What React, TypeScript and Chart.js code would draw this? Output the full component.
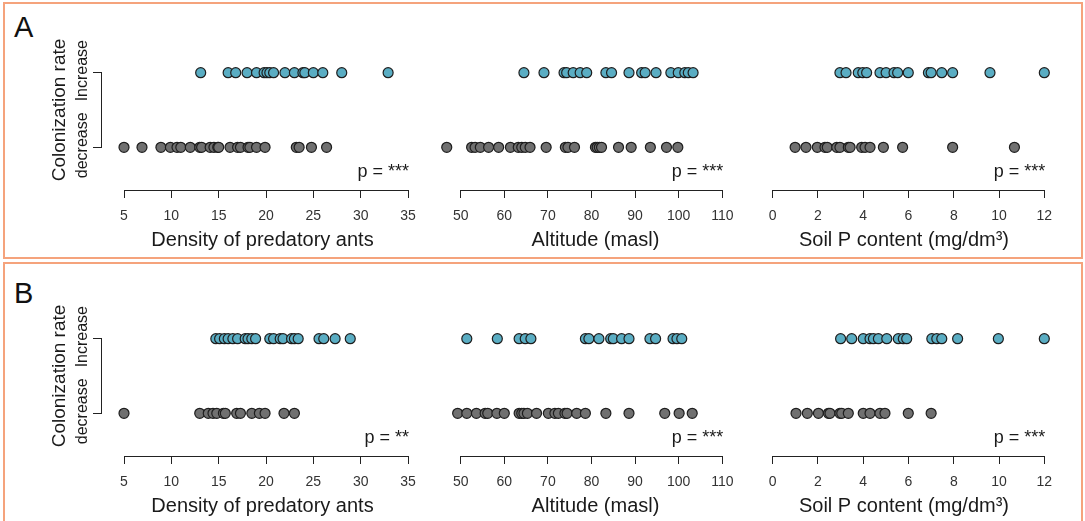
import React, { useEffect, useRef } from 'react';
import { Chart, registerables } from 'chart.js';

Chart.register(...registerables);

// ---------- data ----------
const antsTicks = [5, 10, 15, 20, 25, 30, 35];
const altTicks = [50, 60, 70, 80, 90, 100, 110];
const soilTicks = [0, 2, 4, 6, 8, 10, 12];

const xTitles = ['Density of predatory ants', 'Altitude (masl)', 'Soil P content (mg/dm³)'];
const levelLabels = ['decrease', 'Increase'];
const yTitle = 'Colonization rate';
const panelLetters = ['A', 'B'];
const pLabelsA = ['p = ***', 'p = ***', 'p = ***'];
const pLabelsB = ['p = **', 'p = ***', 'p = ***'];

// Panel A
const aAntsIncrease = [13.1, 16.0, 16.8, 18.0, 19.0, 19.8, 20.1, 20.4, 20.8, 22.0, 23.0, 23.9, 24.1, 25.0, 26.0, 28.0, 32.9];
const aAntsDecrease = [5.0, 6.9, 8.9, 9.9, 10.6, 11.0, 12.0, 13.0, 13.2, 14.1, 14.5, 14.9, 15.0, 16.2, 17.0, 17.3, 18.1, 18.3, 19.0, 19.9, 23.2, 23.5, 24.8, 26.4];
const aAltIncrease = [64.5, 69.1, 73.7, 74.3, 75.8, 77.4, 78.9, 83.3, 84.6, 88.6, 91.5, 92.3, 94.8, 98.2, 99.9, 101.4, 102.2, 103.3];
const aAltDecrease = [46.8, 52.5, 53.3, 54.5, 56.4, 58.7, 61.4, 63.2, 64.0, 64.8, 65.9, 69.6, 74.0, 74.6, 76.1, 80.9, 81.3, 81.8, 82.3, 86.2, 89.1, 93.5, 97.2, 99.8];
const aSoilIncrease = [2.97, 3.24, 3.78, 3.98, 4.15, 4.74, 5.01, 5.36, 5.52, 5.99, 6.88, 7.0, 7.47, 7.95, 9.6, 12.0];
const aSoilDecrease = [0.99, 1.47, 1.97, 2.31, 2.41, 2.83, 2.97, 3.34, 3.42, 3.93, 4.08, 4.3, 4.89, 5.74, 7.95, 10.68];

// Panel B
const bAntsIncrease = [14.7, 15.1, 15.6, 16.0, 16.5, 17.0, 17.8, 18.1, 18.5, 18.9, 20.4, 20.8, 21.5, 21.8, 22.7, 23.0, 23.4, 25.6, 26.1, 27.3, 28.9];
const bAntsDecrease = [5.0, 13.0, 13.9, 14.4, 14.8, 15.5, 15.7, 16.9, 17.3, 18.5, 19.3, 19.9, 21.9, 23.0];
const bAltIncrease = [51.4, 58.4, 63.4, 64.8, 66.1, 78.6, 79.4, 81.7, 84.4, 85.0, 86.9, 88.6, 93.4, 94.7, 98.7, 99.6, 100.7];
const bAltDecrease = [49.3, 51.4, 53.6, 55.6, 56.2, 58.3, 60.0, 63.4, 64.0, 64.5, 65.3, 67.4, 70.1, 71.6, 72.4, 73.9, 74.4, 76.6, 78.6, 83.3, 88.6, 96.8, 100.1, 103.1];
const bSoilIncrease = [3.0, 3.49, 4.0, 4.3, 4.45, 4.67, 5.04, 5.55, 5.77, 5.92, 7.03, 7.25, 7.47, 8.17, 9.97, 12.0];
const bSoilDecrease = [1.03, 1.53, 2.02, 2.46, 2.53, 2.97, 3.05, 3.34, 4.0, 4.3, 4.74, 4.96, 5.99, 7.0];

// ---------- styles ----------
const FONT = '"Liberation Sans", Arial, Helvetica, sans-serif';
const TEAL = '#5aadc3';
const GREY = '#707070';
const EDGE = '#1e1e1e';
const AXIS = '#222222';
const TEXT = '#1a1a1a';
const FRAME = '#f5a37c';

Chart.defaults.font.family = FONT;

type ColSpec = {
  left: number;
  width: number;
  padL: number;
  padR: number;
  yWidth: number;
  min: number;
  max: number;
  ticks: number[];
  title: string;
  showY: boolean;
};

const columns: ColSpec[] = [
  { left: 0, width: 434, padL: 0, padR: 10, yWidth: 101, min: 2.5704, max: 36.69, ticks: antsTicks, title: xTitles[0], showY: true },
  { left: 430, width: 331, padL: 10, padR: 10, yWidth: 0, min: 45.252, max: 116.583, ticks: altTicks, title: xTitles[1], showY: false },
  { left: 742, width: 324, padL: 14, padR: 14, yWidth: 0, min: -0.738, max: 12.34, ticks: soilTicks, title: xTitles[2], showY: false },
];

const CANVAS_H = 252;
const PAD_TOP = 35;
const X_AXIS_H = 62;
const Y_MIN = -0.572;
const Y_MAX = 1.505;

function alignPx(p: number) {
  return Math.round(p - 0.5) + 0.5;
}

type SubProps = {
  top: number;
  col: ColSpec;
  inc: number[];
  dec: number[];
  pLabel: string;
};

function SubPlot({ top, col, inc, dec, pLabel }: SubProps) {
  const ref = useRef<HTMLCanvasElement | null>(null);

  useEffect(() => {
    if (!ref.current) return;
    const ticks = col.ticks;
    const plugin = {
      id: 'customAxes',
      afterDraw(chart: any) {
        const { ctx, chartArea } = chart;
        const xs = chart.scales.x;
        const ys = chart.scales.y;
        ctx.save();
        ctx.strokeStyle = AXIS;
        ctx.lineWidth = 1;
        // x axis baseline from first to last tick
        const x0 = alignPx(xs.getPixelForValue(ticks[0]));
        const x1 = alignPx(xs.getPixelForValue(ticks[ticks.length - 1]));
        const yb = alignPx(xs.top);
        ctx.beginPath();
        ctx.moveTo(x0 - 0.5, yb);
        ctx.lineTo(x1 + 0.5, yb);
        ctx.stroke();

        ctx.fillStyle = TEXT;
        if (col.showY) {
          const xr = alignPx(ys.right);
          const py1 = ys.getPixelForValue(1);
          const py0 = ys.getPixelForValue(0);
          ctx.beginPath();
          ctx.moveTo(xr, alignPx(py1) - 0.5);
          ctx.lineTo(xr, alignPx(py0) + 0.5);
          ctx.stroke();

          ctx.textAlign = 'center';
          ctx.textBaseline = 'middle';
          ctx.font = `16px ${FONT}`;
          [0, 1].forEach((lvl) => {
            ctx.save();
            ctx.translate(chartArea.left - 18, ys.getPixelForValue(lvl) - 2);
            ctx.rotate(-Math.PI / 2);
            ctx.fillText(levelLabels[lvl], 0, 0);
            ctx.restore();
          });
          ctx.font = `19px ${FONT}`;
          ctx.save();
          ctx.translate(chartArea.left - 41, (py0 + py1) / 2);
          ctx.rotate(-Math.PI / 2);
          ctx.fillText(yTitle, 0, 0);
          ctx.restore();
        }

        ctx.font = `18px ${FONT}`;
        ctx.textAlign = 'right';
        ctx.textBaseline = 'alphabetic';
        ctx.fillText(pLabel, xs.getPixelForValue(ticks[ticks.length - 1]) + 1, chartArea.bottom - 13);
        ctx.restore();
      },
    };

    const chart = new Chart(ref.current, {
      type: 'scatter',
      data: {
        datasets: [
          {
            data: dec.map((v) => ({ x: v, y: 0 })),
            backgroundColor: GREY,
            borderColor: EDGE,
            borderWidth: 1.2,
            pointRadius: 5,
            clip: false,
          },
          {
            data: inc.map((v) => ({ x: v, y: 1 })),
            backgroundColor: TEAL,
            borderColor: EDGE,
            borderWidth: 1.2,
            pointRadius: 5,
            clip: false,
          },
        ],
      },
      options: {
        responsive: false,
        animation: false,
        events: [],
        layout: { padding: { top: PAD_TOP, bottom: 0, left: col.padL, right: col.padR } },
        plugins: { legend: { display: false }, tooltip: { enabled: false } },
        scales: {
          x: {
            type: 'linear',
            bounds: 'data',
            min: col.min,
            max: col.max,
            afterBuildTicks: (scale: any) => {
              scale.ticks = ticks.map((v) => ({ value: v }));
            },
            afterFit: (scale: any) => {
              scale.height = X_AXIS_H;
            },
            border: { display: false },
            grid: { display: true, drawOnChartArea: false, drawTicks: true, tickLength: 8, color: AXIS, lineWidth: 1 },
            ticks: {
              padding: 10,
              color: '#333333',
              font: { size: 14, family: FONT },
              maxRotation: 0,
              autoSkip: false,
              callback: (v: any) => String(v),
            },
            title: {
              display: true,
              text: col.title,
              color: TEXT,
              font: { size: 20, family: FONT },
              padding: { top: 0, bottom: 0 },
            },
          },
          y: {
            type: 'linear',
            bounds: 'data',
            display: col.showY,
            min: Y_MIN,
            max: Y_MAX,
            afterBuildTicks: (scale: any) => {
              scale.ticks = [0, 1].map((v) => ({ value: v }));
            },
            afterFit: (scale: any) => {
              scale.width = col.yWidth;
            },
            border: { display: false },
            grid: { display: true, drawOnChartArea: false, drawTicks: true, tickLength: 8, color: AXIS, lineWidth: 1 },
            ticks: { display: false },
          },
        },
      },
      plugins: [plugin],
    });
    return () => chart.destroy();
  }, [top, col, inc, dec, pLabel]);

  return (
    <canvas
      ref={ref}
      width={col.width}
      height={CANVAS_H}
      style={{ position: 'absolute', left: col.left, top, width: col.width, height: CANVAS_H, display: 'block' }}
    />
  );
}

const panelA = { top: 0, inc: [aAntsIncrease, aAltIncrease, aSoilIncrease], dec: [aAntsDecrease, aAltDecrease, aSoilDecrease], p: pLabelsA };
const panelB = { top: 266, inc: [bAntsIncrease, bAltIncrease, bSoilIncrease], dec: [bAntsDecrease, bAltDecrease, bSoilDecrease], p: pLabelsB };

export default function App() {
  const panels = [panelA, panelB];
  return (
    <div style={{ position: 'fixed', left: 0, top: 0, width: 1085, height: 521, overflow: 'hidden', background: '#ffffff' }}>
      <div style={{ position: 'absolute', left: 3, top: 2, width: 1080, height: 257, borderStyle: 'solid', borderWidth: 2, borderColor: FRAME, boxSizing: 'border-box' }} />
      <div style={{ position: 'absolute', left: 3, top: 262, width: 1080, height: 270, borderStyle: 'solid', borderWidth: 2, borderColor: FRAME, boxSizing: 'border-box' }} />
      {panels.map((p, pi) => (
        <div
          key={'L' + pi}
          style={{ position: 'absolute', left: 14, top: p.top + 13, fontFamily: FONT, fontSize: 29, lineHeight: '29px', color: '#111' }}
        >
          {panelLetters[pi]}
        </div>
      ))}
      {panels.map((p, pi) =>
        columns.map((c, ci) => (
          <SubPlot key={`${pi}-${ci}`} top={p.top} col={c} inc={p.inc[ci]} dec={p.dec[ci]} pLabel={p.p[ci]} />
        ))
      )}
    </div>
  );
}
